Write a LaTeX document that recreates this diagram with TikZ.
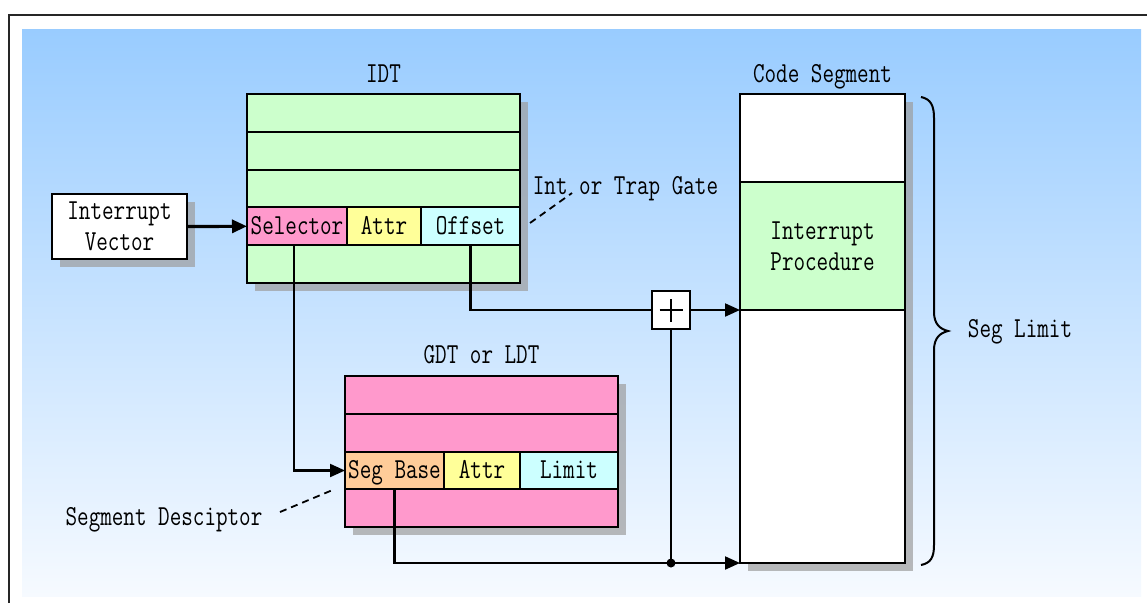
\documentclass[tikz,border=0pt]{standalone}
\usepackage{fontspec}
\newfontfamily\dgfont{Latin Modern Mono}[FakeStretch=0.775]
\usetikzlibrary{arrows.meta}
\definecolor{cgreen}{HTML}{CCFFCC}
\definecolor{cpink}{HTML}{FF99CC}
\definecolor{cyellow}{HTML}{FFFF99}
\definecolor{ccyan}{HTML}{CCFFFF}
\definecolor{corange}{HTML}{FFCC99}
\definecolor{bgtop}{HTML}{99CCFF}
\definecolor{bgbot}{HTML}{F6FAFF}
\definecolor{shadowgray}{RGB}{157,157,157}
\begin{document}
\begin{tikzpicture}[x=1pt,y=-1pt,
  every node/.style={font=\dgfont\fontsize{29}{31}\selectfont},
  cell/.style={draw, line width=2.1pt, inner sep=0pt, outer sep=0pt, anchor=north west,
    minimum height=37.8pt, text height=18pt, text depth=2pt},
  boxn/.style={draw, line width=2.1pt, inner sep=0pt, outer sep=0pt, anchor=north west, align=center},
  shadowbox/.style={fill=shadowgray, fill opacity=0.7},
  conn/.style={line width=2.1pt},
  arr/.style={conn, -{Triangle[length=15pt,width=13pt]}},
  lbl/.style={inner sep=0pt, anchor=base},
  dashedlink/.style={line width=1.8pt, dash pattern=on 7pt off 5pt}]
\useasboundingbox (0,0) rectangle (1147,603);
\fill[white] (0,0) rectangle (1147,603);
% background
\shade[top color=bgtop, bottom color=bgbot] (22,29) rectangle (1141,596);
\draw[line width=2.4pt, black!85] (9,603) -- (9,15) -- (1147,15);
% shadows
\fill[shadowbox] (60,202) rectangle (195,267);
\fill[shadowbox] (255,102) rectangle (528,291);
\fill[shadowbox] (353,384) rectangle (626,535);
\fill[shadowbox] (748,102) rectangle (913,571);
% interrupt vector
\node[boxn, fill=white, minimum width=135pt, minimum height=65pt] (iv) at (52,194) {Interrupt\\Vector};
% IDT
\node[cell, fill=cgreen, minimum width=273pt] (idt1) at (247,94) {};
\node[cell, fill=cgreen, minimum width=273pt] (idt2) at (idt1.south west) {};
\node[cell, fill=cgreen, minimum width=273pt] (idt3) at (idt2.south west) {};
\node[cell, fill=cpink, minimum width=100pt] (sel) at (idt3.south west) {Selector};
\node[cell, fill=cyellow, minimum width=74pt] (attra) at (sel.north east) {Attr};
\node[cell, fill=ccyan, minimum width=99pt] (off) at (attra.north east) {Offset};
\node[cell, fill=cgreen, minimum width=273pt] (idt5) at (sel.south west) {};
% GDT
\node[cell, fill=cpink, minimum width=273pt] (gdt1) at (345,376) {};
\node[cell, fill=cpink, minimum width=273pt] (gdt2) at (gdt1.south west) {};
\node[cell, fill=corange, minimum width=99pt] (segb) at (gdt2.south west) {Seg Base};
\node[cell, fill=cyellow, minimum width=76pt] (attrb) at (segb.north east) {Attr};
\node[cell, fill=ccyan, minimum width=98pt] (lim) at (attrb.north east) {Limit};
\node[cell, fill=cpink, minimum width=273pt] (gdt4) at (segb.south west) {};
% code segment
\node[boxn, fill=white, minimum width=165pt, minimum height=88pt] (cs1) at (740,94) {};
\node[boxn, fill=cgreen, minimum width=165pt, minimum height=128pt] (cs2) at (cs1.south west) {Interrupt\\Procedure};
\node[boxn, fill=white, minimum width=165pt, minimum height=253pt] (cs3) at (cs2.south west) {};
% adder
\node[draw, fill=white, line width=2.1pt, minimum width=38pt, minimum height=38pt, inner sep=0pt, outer sep=0pt] (plus) at (671,310) {};
\draw[line width=1.6pt] ([xshift=-11.5pt]plus.center) -- ([xshift=11.5pt]plus.center);
\draw[line width=1.6pt] ([yshift=-11.5pt]plus.center) -- ([yshift=11.5pt]plus.center);
% titles and labels
\node[lbl] (idtt) at (383.5,82) {IDT};
\node[lbl] (cst) at (822.5,82) {Code Segment};
\node[lbl] (gdtt) at (481.5,363) {GDT or LDT};
\node[lbl] (gate) at (625.5,194) {Int or Trap Gate};
\node[lbl] (segl) at (1020,337) {Seg Limit};
\node[lbl] (sdesc) at (164,525) {Segment Desciptor};
% connectors
\draw[arr, line width=3.2pt] (iv.east) -- (sel.west);
\draw[arr] ([xshift=-3pt]sel.south) |- (segb.west);
\draw[conn] (off.south) |- (plus.west);
\draw[arr] (plus.east) -- (plus.east -| cs3.west);
\draw[arr] (segb.south) |- (cs3.south west);
\coordinate (junc) at (plus.south |- cs3.south);
\fill (junc) circle (4.5pt);
\draw[conn] (junc) -- (plus.south);
% dashed pointers
\coordinate (g1) at (530,223);
\coordinate (g2) at (572,193);
\draw[dashedlink] (g1) -- (g2);
\coordinate (s1) at (280,512);
\coordinate (s2) at (335,489);
\draw[dashedlink] (s1) -- (s2);
% brace
\draw[line width=2pt] (921,97) .. controls (931,99) and (934,106) .. (934,118) -- (934,312)
  .. controls (934,324) and (940,329) .. (948,331)
  .. controls (940,333) and (934,338) .. (934,350) -- (934,545)
  .. controls (934,557) and (931,563) .. (921,565);
\end{tikzpicture}
\end{document}
